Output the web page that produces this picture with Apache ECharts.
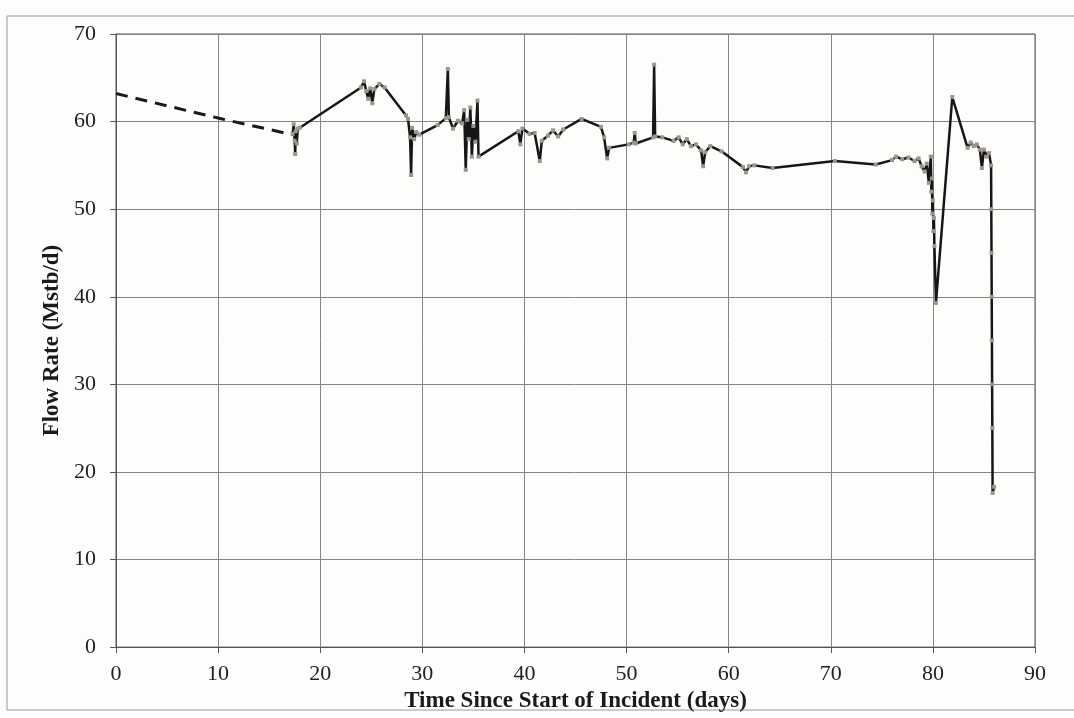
<!DOCTYPE html>
<html>
<head>
<meta charset="utf-8">
<title>Flow Rate</title>
<script src="https://cdn.jsdelivr.net/npm/echarts@6/dist/echarts.min.js"></script>
<style>
  html, body { margin: 0; padding: 0; background: #fdfdfb; }
  #chart { width: 1074px; height: 718px; }
</style>
</head>
<body>
<div id="chart"></div>
<script>
// dashed estimate before measurements (days, Mstb/d)
const estimateDays = [0, 10, 17.3];
const estimateRates = [63.2, 60.4, 58.5];

// measured flow rate (days, Mstb/d)
const measuredDays = [
    17.3, 17.4, 17.5, 17.55, 17.6, 17.7, 17.8, 18.0,
    24.0, 24.3, 24.5, 24.7, 24.9, 25.1, 25.3, 25.8, 26.3,
    28.4, 28.6, 28.8, 28.9, 29.0, 29.2, 29.4, 29.7,
    31.5, 32.3, 32.5, 32.6, 33.0, 33.5, 33.9, 34.1, 34.25, 34.4, 34.55, 34.7, 34.85, 35.0, 35.2, 35.4, 35.5,
    39.4, 39.6, 39.8, 40.5, 41.0, 41.5, 41.7, 42.3, 42.8, 43.3, 43.8, 45.6, 47.5, 47.8, 48.1, 48.3,
    50.2, 50.7, 50.8, 50.9, 52.6, 52.7, 52.8, 53.5, 54.6, 55.1, 55.5, 55.9, 56.3, 56.8, 57.3, 57.5, 57.7,
    58.2, 59.3, 61.4, 61.7, 62.0, 62.5, 64.3, 70.4, 74.4, 76.0, 76.4, 77.0, 77.6, 78.2, 78.6, 78.9,
    79.2, 79.4, 79.6, 79.8, 79.85, 79.9, 79.95, 80.0, 80.05, 80.1, 80.15, 80.3,
    81.9, 83.4, 83.7, 84.0, 84.3, 84.6, 84.8, 85.0, 85.3, 85.5, 85.7,
    85.72, 85.74, 85.76, 85.78, 85.8, 85.82, 85.85, 86.0
];
const measuredRates = [
    58.6, 59.7, 57.8, 56.3, 58.9, 57.5, 59.2, 59.3,
    63.9, 64.6, 63.5, 62.6, 63.8, 62.1, 63.7, 64.3, 63.9,
    60.7, 60.3, 58.2, 53.9, 59.3, 58.0, 58.8, 58.5,
    59.6, 60.4, 66.0, 60.5, 59.2, 60.1, 59.8, 61.3, 54.5, 60.2, 58.0, 61.6, 56.0, 59.5, 57.7, 62.4, 56.0,
    58.9, 57.4, 59.2, 58.6, 58.7, 55.5, 57.8, 58.4, 59.0, 58.3, 59.1, 60.3, 59.4, 58.2, 55.8, 57.0,
    57.4, 57.6, 58.7, 57.5, 58.2, 66.5, 58.3, 58.2, 57.8, 58.2, 57.4, 58.0, 57.2, 57.4, 56.7, 54.9, 56.5,
    57.2, 56.6, 54.8, 54.2, 54.9, 55.0, 54.7, 55.5, 55.1, 55.6, 56.0, 55.7, 55.9, 55.5, 55.8, 54.9,
    54.3, 55.2, 53.0, 56.0, 52.0, 53.5, 49.5, 51.0, 47.5, 49.0, 45.8, 39.3,
    62.8, 57.0, 57.6, 57.2, 57.4, 56.8, 54.7, 56.8, 56.0, 56.4, 55.0,
    50.0, 45.0, 40.0, 35.0, 30.0, 25.0, 17.6, 18.3
];

const xTicks = [0, 90, 10];
const yTicks = [0, 70, 10];

const pairs = (xs, ys) => xs.map((x, i) => [x, ys[i]]);

const getOption = () => {
    const serif = "Liberation Serif";
    return {
        backgroundColor: "#fdfdfb",
        animation: false,
        graphic: [
            {
                type: "rect",
                shape: { x: 7, y: 16, width: 1080, height: 694 },
                style: { fill: "none", stroke: "#9a9a9a", lineWidth: 1 },
                silent: true
            }
        ],
        grid: {
            left: 116,
            right: 39,
            top: 34,
            bottom: 70,
            show: true,
            borderColor: "#555",
            borderWidth: 1
        },
        xAxis: {
            type: "value",
            min: xTicks[0],
            max: xTicks[1],
            interval: xTicks[2],
            name: "Time Since Start of Incident (days)",
            nameLocation: "middle",
            nameGap: 41,
            nameTextStyle: { fontFamily: serif, fontWeight: "bold", fontSize: 23, color: "#1a1a1a" },
            axisLine: { show: true, onZero: false, lineStyle: { color: "#555", width: 1 } },
            axisTick: { show: true, length: 6, lineStyle: { color: "#555" } },
            axisLabel: { fontFamily: serif, fontSize: 22, color: "#222", margin: 16 },
            splitLine: { show: true, lineStyle: { color: "#858585", width: 1 } }
        },
        yAxis: {
            type: "value",
            min: yTicks[0],
            max: yTicks[1],
            interval: yTicks[2],
            name: "Flow Rate (Mstb/d)",
            nameLocation: "middle",
            nameGap: 47,
            nameTextStyle: { fontFamily: serif, fontWeight: "bold", fontSize: 23, color: "#1a1a1a" },
            axisLine: { show: true, lineStyle: { color: "#555", width: 1 } },
            axisTick: { show: true, length: 6, lineStyle: { color: "#555" } },
            axisLabel: { fontFamily: serif, fontSize: 22, color: "#222", margin: 20 },
            splitLine: { show: true, lineStyle: { color: "#858585", width: 1 } }
        },
        series: [
            {
                name: "Estimate",
                type: "line",
                data: pairs(estimateDays, estimateRates),
                showSymbol: false,
                lineStyle: { color: "#1a1a1a", width: 3, type: [12, 8] }
            },
            {
                name: "Measured",
                type: "line",
                data: pairs(measuredDays, measuredRates),
                symbol: "rect",
                symbolSize: 4,
                itemStyle: { color: "#9c9491" },
                lineStyle: { color: "#161616", width: 2.5 }
            }
        ]
    };
};

document.addEventListener("DOMContentLoaded", function() {
    const chart = echarts.init(document.getElementById("chart"));
    chart.setOption(getOption());
});
</script>
</body>
</html>
